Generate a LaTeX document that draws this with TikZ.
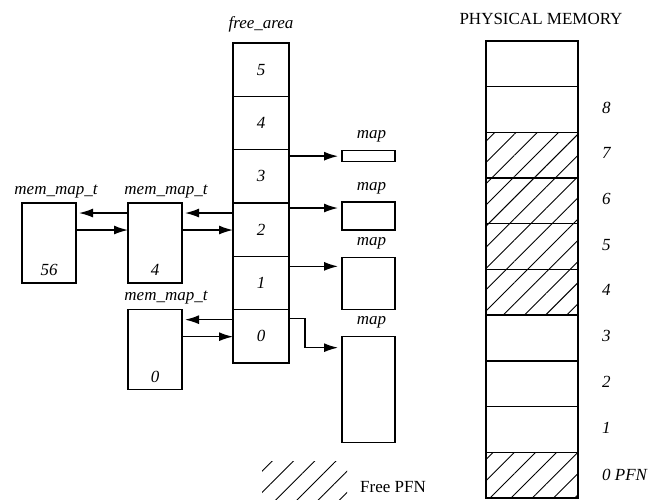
\documentclass[tikz,border=0pt]{standalone}
\usepackage{fontspec}
\setmainfont{Liberation Serif}
\usepackage{tikz}
\usetikzlibrary{arrows.meta,positioning,patterns.meta}
\tikzset{cell/.style={draw,line width=1.4pt,inner sep=0pt,outer sep=0pt,font=\fontsize{17}{20}\selectfont\itshape},
facell/.style={cell,minimum width=56pt,minimum height=53.33pt},
membox/.style={cell,minimum width=54pt,minimum height=80pt},
mapbox/.style={cell,minimum width=53pt},
pmcell/.style={cell,minimum width=92pt,minimum height=45.7pt},
freecell/.style={pmcell,pattern={Lines[angle=45,distance=15pt,line width=0.9pt]}},
lbl/.style={inner sep=0pt,font=\fontsize{17}{20}\selectfont\itshape},
txt/.style={inner sep=0pt,font=\fontsize{17}{20}\selectfont},
arr/.style={-{Latex[length=14pt,width=9pt]},line width=1.4pt}}
\begin{document}
\begin{tikzpicture}[x=1pt,y=1pt]
\useasboundingbox (0,0) rectangle (651,500);
% free_area array
\node[facell] (fa5) at (261,430.3) {5};
\foreach \i/\j in {4/5,3/4,2/3,1/2,0/1}
  \node[facell,below=0pt of fa\j] (fa\i) {\i};
\node[lbl,above=11pt of fa5] (fatitle) {free\_area};
% mem_map_t blocks
\node[membox,left=51pt of fa2.north west,anchor=north east] (mmB) {};
\node[membox,left=52pt of mmB.north west,anchor=north east] (mmA) {};
\node[membox,left=51pt of fa0.north west,anchor=north east] (mmC) {};
\node[lbl,above=7pt of mmA.south] (nA) {56};
\node[lbl,above=7pt of mmB.south] (nB) {4};
\node[lbl,above=7pt of mmC.south] (nC) {0};
\node[lbl,above=5pt of mmA.north,xshift=7pt] (tA) {mem\_map\_t};
\node[lbl,above=5pt of mmB.north,xshift=11pt] (tB) {mem\_map\_t};
\node[lbl,above=5pt of mmC.north,xshift=11pt] (tC) {mem\_map\_t};
\draw[arr,shorten >=3pt] ([yshift=-10pt]mmB.north west) -- ([yshift=-10pt]mmA.north east);
\draw[arr] ([yshift=-27pt]mmA.north east) -- ([yshift=-27pt]mmB.north west);
\draw[arr,shorten >=3pt] ([yshift=-10pt]fa2.north west) -- ([yshift=-10pt]mmB.north east);
\draw[arr] ([yshift=-27pt]mmB.north east) -- ([yshift=-27pt]fa2.north west);
\draw[arr,shorten >=3pt] ([yshift=-10pt]fa0.north west) -- ([yshift=-10pt]mmC.north east);
\draw[arr] ([yshift=-27pt]mmC.north east) -- ([yshift=-27pt]fa0.north west);
% map blocks
\node[mapbox,minimum height=11pt,right=53pt of fa3.north east,anchor=north west,yshift=-1pt] (m3) {};
\node[mapbox,minimum height=28pt,right=53pt of fa2.north east,anchor=north west,yshift=1pt] (m2) {};
\node[mapbox,minimum height=52pt,right=53pt of fa1.north east,anchor=north west,yshift=-1pt] (m1) {};
\node[mapbox,minimum height=106pt,right=53pt of fa0.north east,anchor=north west,yshift=-27pt] (m0) {};
\foreach \m in {m3,m2,m1,m0}
  \node[lbl,above=8pt of \m.north,xshift=3pt] (t\m) {map};
\coordinate (p2) at ([yshift=-5pt]fa2.north east);
\coordinate (p1) at ([yshift=-10pt]fa1.north east);
\coordinate (p0) at ([yshift=-9pt]fa0.north east);
\draw[arr,shorten >=4pt] (fa3.east |- m3.west) -- (m3.west);
\draw[arr,shorten >=4pt] (p2) -- (p2 -| m2.west);
\draw[arr,shorten >=4pt] (p1) -- (p1 -| m1.west);
\draw[arr,shorten >=4pt] (p0) -- ++(16pt,0) |- ([yshift=-11pt]m0.north west);
% physical memory
\node[pmcell] (pm9) at (532,436.15) {};
\foreach \i/\j/\s in {8/9/pmcell,7/8/freecell,6/7/freecell,5/6/freecell,4/5/freecell,3/4/pmcell,2/3/pmcell,1/2/pmcell,0/1/freecell}
  \node[style=\s,below=0pt of pm\j] (pm\i) {};
\foreach \i in {1,...,8}
  \node[lbl,right=24pt of pm\i,yshift=2pt] (n\i) {\i};
\node[lbl,right=24pt of pm0] (n0) {0 PFN};
\node[txt,above=16pt of pm9,xshift=9pt] (pmtitle) {PHYSICAL MEMORY};
% legend
\node[freecell,draw=none,minimum width=85pt,minimum height=38pt,anchor=south west] (key) at (262,0) {};
\node[txt,right=13pt of key,yshift=-6pt] (keytxt) {Free PFN};
\end{tikzpicture}
\end{document}
